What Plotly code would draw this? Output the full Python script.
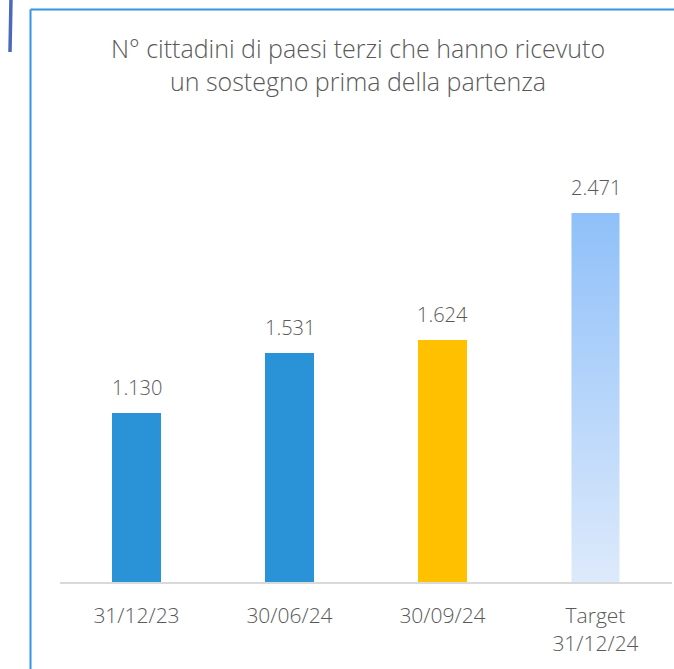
import plotly.graph_objects as go

categories = ["31/12/23", "30/06/24", "30/09/24", "Target<br>31/12/24"]
values = [1130, 1531, 1624, 2471]
bar_colors = ["#2A92D7", "#2A92D7", "#FFC000", "rgba(0,0,0,0)"]
title_text = "N° cittadini di paesi terzi che hanno ricevuto<br>un sostegno prima della partenza"

TEXT = "#595959"
FONT = "Open Sans"
BAR_W = 0.314
xs = list(range(len(categories)))

fig = go.Figure()

# gradient fill for the target bar (built from its value)
i_t = len(values) - 1
v_t = values[i_t]
fig.add_trace(go.Scatter(
    x=[i_t - BAR_W / 2, i_t + BAR_W / 2, i_t + BAR_W / 2, i_t - BAR_W / 2, i_t - BAR_W / 2],
    y=[0, 0, v_t, v_t, 0],
    mode="lines", line=dict(width=0), fill="toself",
    fillgradient=dict(type="vertical", colorscale=[[0, "#DDEAFB"], [1, "#8FC0F9"]]),
    hoverinfo="skip", showlegend=False,
))

fig.add_trace(go.Bar(
    x=xs, y=values, width=BAR_W,
    marker=dict(color=bar_colors, line=dict(width=0)),
    showlegend=False,
))

for x, v in zip(xs, values):
    fig.add_annotation(
        x=x, y=v, text=f"{v:,}".replace(",", "."), showarrow=False,
        yanchor="bottom", yshift=10,
        font=dict(family=FONT, size=20, color=TEXT, weight=300),
    )

L, R, T, B = 60, 2, 110, 87
W, H = 674, 669
pw, ph = W - L - R, H - T - B

def px(x):
    return (x - L) / pw

def py(y):
    return (H - B - y) / ph

frame = "#3396E3"
fig.add_shape(type="line", xref="paper", yref="paper",
              x0=px(30.5), x1=px(30.5), y0=py(9.5), y1=py(680),
              line=dict(color=frame, width=2))
fig.add_shape(type="line", xref="paper", yref="paper",
              x0=px(30.5), x1=px(690), y0=py(9.5), y1=py(9.5),
              line=dict(color=frame, width=2))
fig.add_shape(type="line", xref="paper", yref="paper",
              x0=px(11), x1=px(10), y0=py(-2), y1=py(52),
              line=dict(color="#4A6AB8", width=3.5))

fig.update_layout(
    width=W, height=H,
    margin=dict(l=L, r=R, t=T, b=B),
    paper_bgcolor="white", plot_bgcolor="white",
    separators=",.",
    bargap=0,
    title=dict(text=title_text, x=358 / W, xanchor="center", xref="container",
               y=1 - 58 / H, yanchor="top", yref="container",
               font=dict(family=FONT, size=25, color=TEXT, weight=300)),
    xaxis=dict(range=[-0.5, 3.5], tickvals=xs, ticktext=categories,
               showgrid=False, zeroline=False, showline=True,
               linecolor="#D9D9D9", linewidth=2, ticks="",
               ticklabelstandoff=14,
               tickfont=dict(family=FONT, size=21, color=TEXT, weight=300),
               fixedrange=True),
    yaxis=dict(range=[0, ph / 0.1493], visible=False, fixedrange=True),
)

fig.write_html("out.html", config={"displayModeBar": False},
               post_script="document.body.style.margin='0px';")
